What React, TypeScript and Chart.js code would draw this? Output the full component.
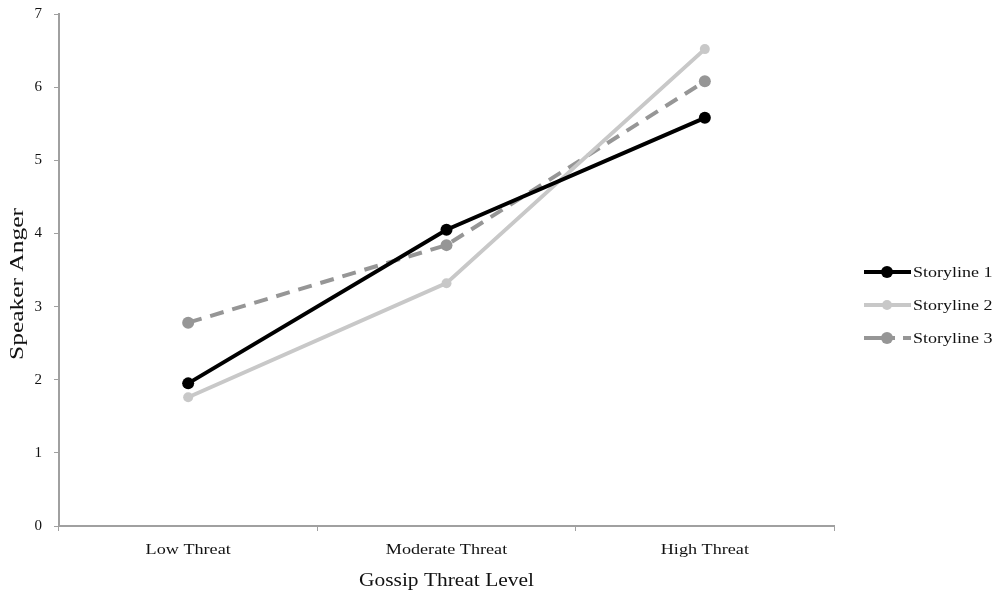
import React, { useEffect, useRef } from "react";
import { Chart, registerables } from "chart.js";

Chart.register(...registerables);

const categories = ["Low Threat", "Moderate Threat", "High Threat"];
const storyline1 = [1.95, 4.05, 5.58];
const storyline2 = [1.76, 3.32, 6.52];
const storyline3 = [2.78, 3.84, 6.08];
const seriesNames = ["Storyline 1", "Storyline 2", "Storyline 3"];
const yTicks = [0, 1, 2, 3, 4, 5, 6, 7];
const xTitle = "Gossip Threat Level";
const yTitle = "Speaker Anger";

const FONT = "'Liberation Serif', 'Times New Roman', serif";
const COLORS = ["#000000", "#c8c8c8", "#969696"];
const TEXT = "#111111";

function stretchedText(ctx: any, text: string, x: number, y: number, font: string, sx: number, align: string) {
  ctx.save();
  ctx.font = font;
  ctx.fillStyle = TEXT;
  ctx.textBaseline = "middle";
  ctx.textAlign = align;
  ctx.translate(x, y);
  ctx.scale(sx, 1);
  ctx.fillText(text, 0, 0);
  ctx.restore();
}

const textPlugin = {
  id: "customText",
  afterDraw(chart: any) {
    const ctx = chart.ctx;
    const xs = chart.scales.x;
    const area = chart.chartArea;
    xs.getLabels().forEach((lab: string, i: number) => {
      stretchedText(ctx, lab, xs.getPixelForValue(i), area.bottom + 24, `15px ${FONT}`, 1.21, "center");
    });
    stretchedText(ctx, xTitle, (area.left + area.right) / 2, area.bottom + 55, `18px ${FONT}`, 1.19, "center");
    ctx.save();
    ctx.font = `18px ${FONT}`;
    const w = ctx.measureText(yTitle).width;
    ctx.translate(18, (area.top + area.bottom) / 2 + 14);
    ctx.rotate(-Math.PI / 2);
    stretchedText(ctx, yTitle, 0, 0, `18px ${FONT}`, 152 / w, "center");
    ctx.restore();
    const rows = [272, 305, 338];
    chart.data.datasets.forEach((ds: any, i: number) => {
      const y = rows[i];
      ctx.save();
      ctx.strokeStyle = ds.borderColor;
      ctx.lineWidth = 4;
      ctx.lineCap = "butt";
      if (ds.borderDash && ds.borderDash.length) ctx.setLineDash([31, 8]);
      ctx.beginPath();
      ctx.moveTo(864, y);
      ctx.lineTo(911, y);
      ctx.stroke();
      ctx.setLineDash([]);
      ctx.fillStyle = ds.pointBackgroundColor;
      ctx.beginPath();
      ctx.arc(887, y, ds.pointRadius, 0, Math.PI * 2);
      ctx.fill();
      ctx.restore();
      stretchedText(ctx, ds.label, 913, y + 1, `15px ${FONT}`, 1.2, "left");
    });
  },
};

export default function App() {
  const ref = useRef<HTMLCanvasElement>(null);
  useEffect(() => {
    document.body.style.margin = "0";
    const chart = new Chart(ref.current!, {
      type: "line",
      data: {
        labels: categories,
        datasets: [
          {
            label: seriesNames[0],
            data: storyline1,
            borderColor: COLORS[0],
            backgroundColor: COLORS[0],
            pointBackgroundColor: COLORS[0],
            pointBorderWidth: 0,
            pointRadius: 6,
            borderWidth: 4,
            tension: 0,
          },
          {
            label: seriesNames[1],
            data: storyline2,
            borderColor: COLORS[1],
            backgroundColor: COLORS[1],
            pointBackgroundColor: COLORS[1],
            pointBorderWidth: 0,
            pointRadius: 5,
            borderWidth: 4,
            tension: 0,
          },
          {
            label: seriesNames[2],
            data: storyline3,
            borderColor: COLORS[2],
            backgroundColor: COLORS[2],
            pointBackgroundColor: COLORS[2],
            pointBorderWidth: 0,
            pointRadius: 6,
            borderWidth: 4,
            borderDash: [14, 9],
            tension: 0,
          },
        ],
      },
      options: {
        animation: false,
        responsive: false,
        maintainAspectRatio: false,
        layout: { padding: { left: 0, right: 162, top: 14, bottom: 0 } },
        plugins: {
          legend: { display: false },
          tooltip: { enabled: false },
        },
        scales: {
          x: {
            type: "category",
            offset: true,
            grid: {
              offset: true,
              drawOnChartArea: false,
              drawTicks: true,
              tickLength: 5,
              color: "#a0a0a0",
              lineWidth: 1,
            },
            border: { color: "#a0a0a0", width: 2 },
            ticks: { display: false },
            afterFit(scale: any) {
              scale.height = 67;
              scale.paddingLeft = 0;
              scale.paddingRight = 0;
            },
          },
          y: {
            min: 0,
            max: 7,
            afterBuildTicks(scale: any) {
              scale.ticks = yTicks.map((v) => ({ value: v }));
            },
            grid: {
              drawOnChartArea: false,
              drawTicks: true,
              tickLength: 5,
              color: "#a0a0a0",
              lineWidth: 1,
            },
            border: { color: "#a0a0a0", width: 2 },
            ticks: {
              color: TEXT,
              font: { family: FONT, size: 15 },
              padding: 12,
            },
            afterFit(scale: any) {
              scale.width = 59;
              scale.paddingTop = 0;
              scale.paddingBottom = 0;
            },
          },
        },
      },
      plugins: [textPlugin],
    });
    return () => chart.destroy();
  }, []);
  return (
    <div style={{ position: "absolute", left: 0, top: 0, width: 996, height: 593 }}>
      <canvas ref={ref} width={996} height={593} style={{ width: 996, height: 593 }} />
    </div>
  );
}
